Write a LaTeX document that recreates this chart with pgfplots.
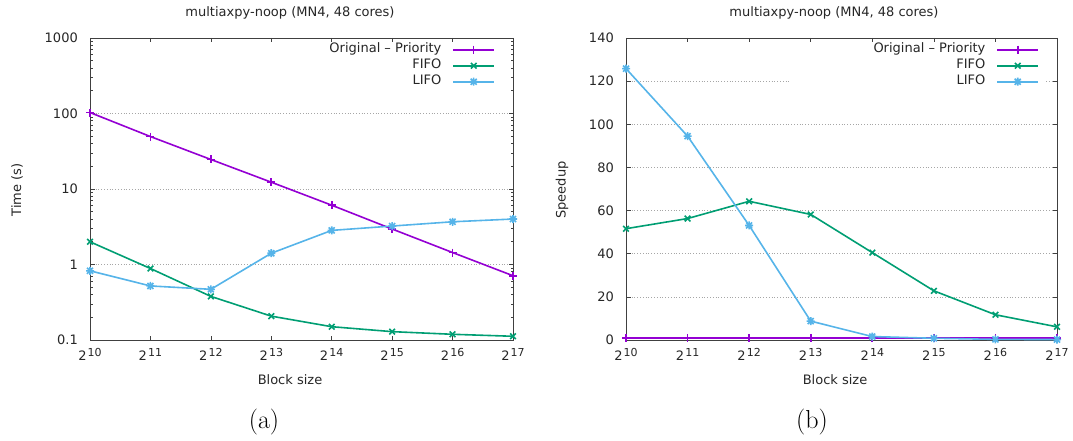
\documentclass[border=0pt]{standalone}
\usepackage{fontspec}
\setsansfont{DejaVu Sans}
\usepackage{pgfplots}
\pgfplotsset{compat=1.18}

% gnuplot default line colours
\definecolor{gppurple}{HTML}{9400D3}
\definecolor{gpgreen}{HTML}{009E73}
\definecolor{gpblue}{HTML}{56B4E9}

% gnuplot point type 3: a plus and a cross on top of each other
\pgfdeclareplotmark{gpstar}{%
  \pgfpathmoveto{\pgfqpoint{-\pgfplotmarksize}{0pt}}%
  \pgfpathlineto{\pgfqpoint{\pgfplotmarksize}{0pt}}%
  \pgfpathmoveto{\pgfqpoint{0pt}{-\pgfplotmarksize}}%
  \pgfpathlineto{\pgfqpoint{0pt}{\pgfplotmarksize}}%
  \pgfpathmoveto{\pgfqpoint{-.75\pgfplotmarksize}{-.75\pgfplotmarksize}}%
  \pgfpathlineto{\pgfqpoint{.75\pgfplotmarksize}{.75\pgfplotmarksize}}%
  \pgfpathmoveto{\pgfqpoint{-.75\pgfplotmarksize}{.75\pgfplotmarksize}}%
  \pgfpathlineto{\pgfqpoint{.75\pgfplotmarksize}{-.75\pgfplotmarksize}}%
  \pgfusepathqstroke}

% power-of-two tick label
\newcommand{\pw}[1]{2\hspace{1.2pt}\raisebox{4.5pt}{\fontsize{11}{11}\selectfont #1}}

\pgfplotsset{
  gpaxis/.style={
    scale only axis, height=302pt, anchor=south west,
    clip=false,
    xmin=10, xmax=17, xtick={10,...,17},
    xticklabels={\pw{10},\pw{11},\pw{12},\pw{13},\pw{14},\pw{15},\pw{16},\pw{17}},
    tick align=inside, tick pos=both,
    major tick length=4.5pt, minor tick length=2.5pt,
    axis line style={black!75, line width=0.8pt},
    every tick/.style={black!75, line width=0.7pt},
    ymajorgrids,
    grid style={gray!70, line width=0.6pt, dash pattern=on 0.8pt off 2pt},
    tick label style={font=\sffamily\fontsize{13}{15}\selectfont, text=black!85},
    xticklabel style={anchor=north, inner sep=0pt, yshift=-8pt},
    yticklabel style={anchor=east, inner sep=0pt, xshift=-12pt},
    every axis plot/.append style={line width=1.6pt, mark size=4pt,
      mark options={solid, line width=1.3pt}},
    legend image code/.code={%
      \draw[mark repeat=2, mark phase=2]
        plot coordinates {(0pt,0pt) (20.5pt,0pt) (41pt,0pt)};},
    legend plot pos=right,
    legend cell align=right,
    legend style={draw=none, fill=none, at={(rel axis cs:1,1)},
      anchor=north east, xshift=-18pt, yshift=-5.5pt,
      inner sep=0pt, outer sep=0pt, column sep=11pt, row sep=3.5pt,
      font=\sffamily\fontsize{13}{15}\selectfont, text=black!85,
      nodes={inner sep=0pt, text height=9.5pt, text depth=3pt}},
  },
  priority/.style={color=gppurple, mark=+, mark options={color=gppurple}},
  fifo/.style={color=gpgreen, mark=x, mark options={color=gpgreen}},
  lifo/.style={color=gpblue, mark=gpstar, mark options={color=gpblue}},
}

\begin{document}
\begin{tikzpicture}[x=1pt, y=1pt, font=\sffamily\fontsize{13}{15}\selectfont]
\useasboundingbox (0,0) rectangle (1073,441);

% (a) execution time, logarithmic
\begin{axis}[gpaxis, at={(90pt,101pt)}, width=423pt,
    ymode=log, ymin=0.1, ymax=1000,
    ytick={0.1,1,10,100,1000}, yticklabels={0.1,1,10,100,1000}]
\addplot[priority] coordinates {
  (10,103) (11,49.5) (12,24.6) (13,12.3) (14,6.1) (15,2.95) (16,1.44) (17,0.71)};
\addplot[fifo] coordinates {
  (10,2.0) (11,0.885) (12,0.378) (13,0.207) (14,0.150) (15,0.129) (16,0.119) (17,0.112)};
\addplot[lifo] coordinates {
  (10,0.825) (11,0.52) (12,0.469) (13,1.41) (14,2.83) (15,3.23) (16,3.68) (17,4.0)};
\legend{Original – Priority, FIFO, LIFO}
\end{axis}

% (b) speedup over the original scheduler
\begin{axis}[gpaxis, at={(626pt,101pt)}, width=431pt,
    ymin=0, ymax=140, ytick={0,20,40,60,80,100,120,140},
    yticklabels={0,20,40,60,80,100,120,140}]
\fill[white] (rel axis cs:0.38,0.83) rectangle (rel axis cs:0.972,0.98);
\addplot[priority] coordinates {
  (10,1) (11,1) (12,1) (13,1) (14,1) (15,1) (16,1) (17,1)};
\addplot[fifo] coordinates {
  (10,51.6) (11,56.3) (12,64.3) (13,58.2) (14,40.5) (15,22.8) (16,11.7) (17,6.1)};
\addplot[lifo] coordinates {
  (10,125.8) (11,94.5) (12,53.1) (13,8.75) (14,1.6) (15,0.8) (16,0.3) (17,0.2)};
\legend{Original – Priority, FIFO, LIFO}
\end{axis}

% titles, axis labels and sub-captions
\node[text=black!85] at (290,428) {multiaxpy-noop (MN4, 48 cores)};
\node[text=black!85] at (834,428) {multiaxpy-noop (MN4, 48 cores)};
\node[text=black!85] at (290,61) {Block size};
\node[text=black!85] at (835,61) {Block size};
\node[text=black!85, rotate=90] at (17,251) {Time (s)};
\node[text=black!85, rotate=90] at (562,251) {Speedup};
\node[font=\rmfamily\fontsize{26}{30}\selectfont] at (264,19) {(a)};
\node[font=\rmfamily\fontsize{26}{30}\selectfont] at (812,19) {(b)};
\end{tikzpicture}
\end{document}
